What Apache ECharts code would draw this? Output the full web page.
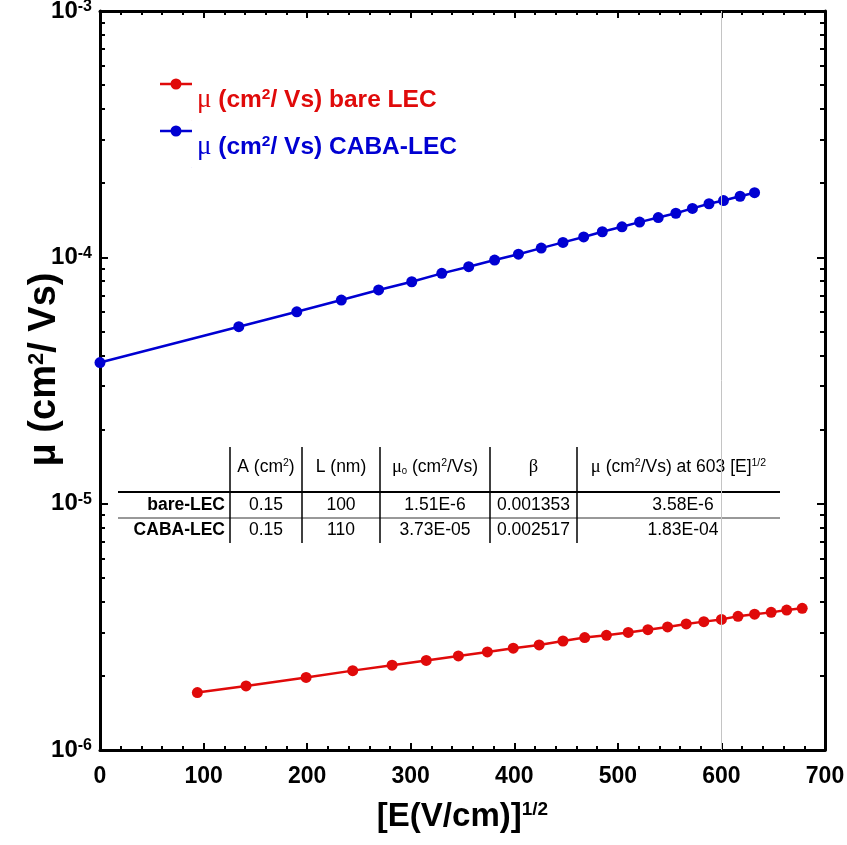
<!DOCTYPE html>
<html>
<head>
<meta charset="utf-8">
<script src="https://cdn.jsdelivr.net/npm/echarts@6/dist/echarts.min.js"></script>
<style>
html,body{margin:0;padding:0;background:#fff;}
#chart{width:847px;height:845px;}
</style>
</head>
<body>
<div id="chart"></div>
<script>
// ---- data ----
const xBare = [94,141,199,244,282,315,346,374,399,424,447,468,489,510,529,548,566,583,600,616,632,648,663,678];
const muBare = [1.71e-6,1.82e-6,1.97e-6,2.10e-6,2.21e-6,2.31e-6,2.41e-6,2.50e-6,2.59e-6,2.67e-6,2.77e-6,2.86e-6,2.92e-6,3.00e-6,3.08e-6,3.16e-6,3.25e-6,3.32e-6,3.39e-6,3.49e-6,3.56e-6,3.62e-6,3.70e-6,3.76e-6];
const xCaba = [0,134,190,233,269,301,330,356,381,404,426,447,467,485,504,521,539,556,572,588,602,618,632];
const muCaba = [3.74e-5,5.23e-5,6.01e-5,6.71e-5,7.37e-5,7.96e-5,8.61e-5,9.16e-5,9.75e-5,1.03e-4,1.09e-4,1.15e-4,1.21e-4,1.27e-4,1.33e-4,1.39e-4,1.45e-4,1.51e-4,1.58e-4,1.65e-4,1.70e-4,1.77e-4,1.83e-4];
const seriesNames = ['bare LEC', 'CABA-LEC'];
const refLineX = 600;
const xTicks = [0,100,200,300,400,500,600,700];
const yDecades = [1e-6,1e-5,1e-4,1e-3];
const tableHeader = ['', '{h|A (cm}{hs|2}{h|)}', '{h|L (nm)}', '{hm|μ}{hsub|0}{h| (cm}{hs|2}{h|/Vs)}', '{hm|β}', '{hm|μ}{h| (cm}{hs|2}{h|/Vs) at 603 [E]}{hs|1/2}'];
const tableRows = [
  ['bare-LEC', '0.15', '100', '1.51E-6', '0.001353', '3.58E-6'],
  ['CABA-LEC', '0.15', '110', '3.73E-05', '0.002517', '1.83E-04']
];

// ---- style ----
const RED = '#e00a0a', BLUE = '#0000d2';
const FONT = '"Liberation Sans", Arial, sans-serif';
const SERIF = '"Liberation Serif", "DejaVu Serif", serif';
const TFS = 17.5;

function pairs(xs, ys){ return xs.map((x,i)=>[x, ys[i]]); }

const chart = echarts.init(document.getElementById('chart'), null, {renderer:'canvas'});

const axisLine = {show:true, onZero:false, lineStyle:{color:'#000', width:3}};

// table graphic
const colX = [118, 230, 302, 380, 490, 577, 780];
const headerY = 467, row1Y = 505, row2Y = 530;
const tableRich = {
  h:{fontFamily:FONT, fontSize:TFS, color:'#000'},
  hs:{fontFamily:FONT, fontSize:10.5, color:'#000', verticalAlign:'top', lineHeight:10},
  hsub:{fontFamily:FONT, fontSize:9.5, color:'#000', verticalAlign:'bottom', lineHeight:8},
  hm:{fontFamily:SERIF, fontSize:TFS+1, color:'#000'}
};
const tableEls = [];
tableHeader.forEach((t,i)=>{
  if(!t) return;
  const cx = (colX[i] + colX[i+1]) / 2;
  tableEls.push({type:'text', x:cx, y:headerY, style:{text:t, rich:tableRich, align:'center', verticalAlign:'middle', fontFamily:FONT, fontSize:TFS, fill:'#000'}});
});
[row1Y, row2Y].forEach((ry, r)=>{
  tableRows[r].forEach((t,i)=>{
    if(i===0){
      tableEls.push({type:'text', x:colX[1]-5, y:ry, style:{text:t, align:'right', verticalAlign:'middle', fontFamily:FONT, fontSize:TFS, fontWeight:'bold', fill:'#000'}});
    } else {
      const cx = i===5 ? 683 : (colX[i] + colX[i+1]) / 2;
      tableEls.push({type:'text', x:cx, y:ry, style:{text:t, align:'center', verticalAlign:'middle', fontFamily:FONT, fontSize:TFS, fill:'#000'}});
    }
  });
});
tableEls.push({type:'line', shape:{x1:colX[0], y1:492, x2:colX[6], y2:492}, style:{stroke:'#000', lineWidth:2}});
tableEls.push({type:'line', shape:{x1:colX[0], y1:518, x2:colX[6], y2:518}, style:{stroke:'#333', lineWidth:1}});
for(let i=1;i<=5;i++){
  tableEls.push({type:'line', shape:{x1:colX[i], y1:447, x2:colX[i], y2:543}, style:{stroke:'#000', lineWidth:1.5}});
}

const LFS = 24.5;
const legendRich = {
  rm:{fontFamily:SERIF, fontSize:LFS+2.5, color:RED},
  r:{fontFamily:FONT, fontSize:LFS, fontWeight:'bold', color:RED},
  rs:{fontFamily:FONT, fontSize:15.5, fontWeight:'bold', color:RED, verticalAlign:'top', lineHeight:14},
  bm:{fontFamily:SERIF, fontSize:LFS+2.5, color:BLUE},
  b:{fontFamily:FONT, fontSize:LFS, fontWeight:'bold', color:BLUE},
  bs:{fontFamily:FONT, fontSize:15.5, fontWeight:'bold', color:BLUE, verticalAlign:'top', lineHeight:14}
};
// legend glyph: line with a dot, raised above the text centre
const legendIcon = 'path://M0,5.75 L32,5.75 L32,8.25 L0,8.25 Z M10.5,7 A5.5,5.5 0 1 1 21.5,7 A5.5,5.5 0 1 1 10.5,7 Z M31.8,43.8 L32,43.8 L32,44 L31.8,44 Z';

const option = {
  backgroundColor:'#fff',
  animation:false,
  grid:{left:100, right:22, top:11, bottom:95, containLabel:false, outerBoundsMode:'none'},
  legend:{
    orient:'vertical', left:160, top:78.5, padding:0, itemWidth:32, itemHeight:42.5, itemGap:4.5,
    icon:legendIcon,
    data: seriesNames,
    textStyle:{fontSize:LFS, rich:null},
    formatter: name => {
      const k = name === seriesNames[0] ? 'r' : 'b';
      return '{'+k+'m|μ}{'+k+'| (cm}{'+k+'s|2}{'+k+'|/ Vs) '+name+'}';
    }
  },
  xAxis:[
    {type:'value', min:xTicks[0], max:xTicks[xTicks.length-1], interval:100, position:'bottom',
     name:'[E(V/cm)]{s|1/2}', nameLocation:'middle', nameGap:50, nameMoveOverlap:false,
     nameTextStyle:{fontFamily:FONT, fontSize:33, fontWeight:'bold', color:'#000',
       rich:{s:{fontFamily:FONT, fontSize:19, fontWeight:'bold', color:'#000', verticalAlign:'top', lineHeight:16}}},
     axisLine:axisLine,
     axisTick:{show:true, inside:true, length:7, lineStyle:{color:'#000', width:2}},
     minorTick:{show:true, splitNumber:5, length:4, lineStyle:{color:'#000', width:2}},
     axisLabel:{fontFamily:FONT, fontSize:23, fontWeight:'bold', color:'#000', margin:15},
     splitLine:{show:false}},
    {type:'value', min:xTicks[0], max:xTicks[xTicks.length-1], interval:100, position:'top',
     axisLine:axisLine,
     axisTick:{show:true, inside:true, length:7, lineStyle:{color:'#000', width:2}},
     minorTick:{show:true, splitNumber:5, length:4, lineStyle:{color:'#000', width:2}},
     axisLabel:{show:false}, splitLine:{show:false}}
  ],
  yAxis:[
    {type:'log', logBase:10, min:yDecades[0], max:yDecades[yDecades.length-1], position:'left',
     name:'μ (cm{s|2}/ Vs)', nameLocation:'middle', nameGap:36, nameMoveOverlap:false,
     nameTextStyle:{fontFamily:FONT, fontSize:38, fontWeight:'bold', color:'#000', padding:[0,0,0,22],
       rich:{s:{fontFamily:FONT, fontSize:22, fontWeight:'bold', color:'#000', verticalAlign:'top', lineHeight:18}}},
     axisLine:axisLine,
     axisTick:{show:true, inside:true, length:8, lineStyle:{color:'#000', width:2}},
     minorTick:{show:true, splitNumber:9, length:5, lineStyle:{color:'#000', width:2}},
     axisLabel:{margin:8, formatter: v => '{b|10}{s|' + Math.round(Math.log10(v)) + '}',
       rich:{b:{fontFamily:FONT, fontSize:24, fontWeight:'bold', color:'#000', lineHeight:24},
             s:{fontFamily:FONT, fontSize:16, fontWeight:'bold', color:'#000', verticalAlign:'top', lineHeight:14}}},
     splitLine:{show:false}},
    {type:'log', logBase:10, min:yDecades[0], max:yDecades[yDecades.length-1], position:'right',
     axisLine:axisLine,
     axisTick:{show:true, inside:true, length:8, lineStyle:{color:'#000', width:2}},
     minorTick:{show:true, splitNumber:9, length:5, lineStyle:{color:'#000', width:2}},
     axisLabel:{show:false}, splitLine:{show:false}}
  ],
  series:[
    {name:seriesNames[0], type:'line', xAxisIndex:0, yAxisIndex:0, data:pairs(xBare, muBare),
     symbol:'circle', symbolSize:11, color:RED, lineStyle:{width:2.5, color:RED}, itemStyle:{color:RED},
     markLine:{silent:true, symbol:'none', label:{show:false}, lineStyle:{color:'#c4c4c4', width:1, type:'solid'},
       data:[{xAxis:refLineX}]}},
    {name:seriesNames[1], type:'line', xAxisIndex:0, yAxisIndex:0, data:pairs(xCaba, muCaba),
     symbol:'circle', symbolSize:11, color:BLUE, lineStyle:{width:2.5, color:BLUE}, itemStyle:{color:BLUE}}
  ],
  graphic:[{type:'group', children:tableEls}]
};
option.legend.textStyle.rich = legendRich;
chart.setOption(option);
</script>
</body>
</html>
